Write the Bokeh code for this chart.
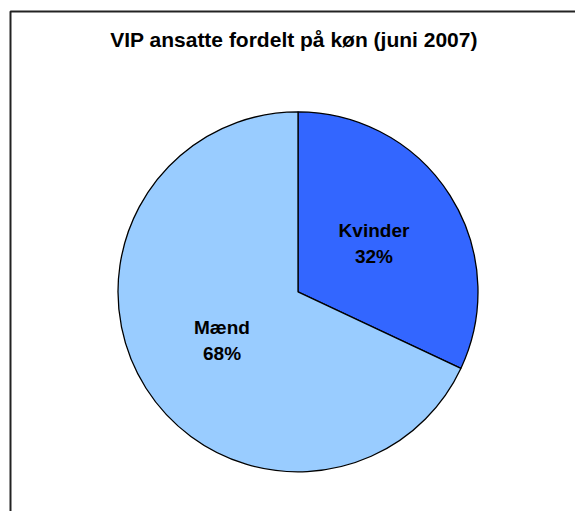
import math
from bokeh.plotting import figure
from bokeh.models import Range1d, ColumnDataSource
from bokeh.core.properties import value
from bokeh.embed import file_html
from bokeh.resources import INLINE

# ---- data ----
title_text = "VIP ansatte fordelt på køn (juni 2007)"
categories = ["Kvinder", "Mænd"]
shares = [32, 68]
slice_colors = ["#3366FF", "#99CCFF"]

# ---- layout ----
W, H = 575, 511
cx, cy, R = 297.5, 219.7, 180.0

total = float(sum(shares))
starts, ends, lx, ly, pct = [], [], [], [], []
cum = 0.0
for s in shares:
    a0 = math.pi / 2 - 2 * math.pi * cum / total
    a1 = math.pi / 2 - 2 * math.pi * (cum + s) / total
    starts.append(a0)
    ends.append(a1)
    mid = (a0 + a1) / 2
    lx.append(cx + 0.5 * R * math.cos(mid))
    ly.append(cy + 0.5 * R * math.sin(mid))
    pct.append(f"{round(100 * s / total)}%")
    cum += s

src = ColumnDataSource(dict(cat=categories, start=starts, end=ends,
                            color=slice_colors, lx=lx, ly=ly, pct=pct))

p = figure(width=W, height=H, output_backend="svg", toolbar_location=None,
           x_range=Range1d(0, W), y_range=Range1d(0, H),
           x_axis_location=None, y_axis_location=None,
           min_border=0, tools="")
p.grid.visible = False
p.outline_line_color = None
p.background_fill_color = "white"
p.border_fill_color = "white"

# chart-area border (left and top edges visible)
p.line(x=[10, 10, W + 20], y=[-20, 500, 500], line_color="#222222", line_width=2)

p.wedge(x=cx, y=cy, radius=R, start_angle="start", end_angle="end",
        direction="clock", fill_color="color", line_color="black",
        line_width=1.3, source=src)

font = value("Liberation Sans")
p.text(x="lx", y="ly", text="cat", source=src, text_font=font,
       text_font_style="bold", text_font_size="19px", text_align="center",
       text_baseline="middle", y_offset=-13, text_color="black")
p.text(x="lx", y="ly", text="pct", source=src, text_font=font,
       text_font_style="bold", text_font_size="19px", text_align="center",
       text_baseline="middle", y_offset=13, text_color="black")

p.text(x=[293.5], y=[472], text=[title_text], text_font=font,
       text_font_style="bold", text_font_size="21px", text_align="center",
       text_baseline="middle", text_color="black")

open("out.html", "w").write(file_html(p, INLINE))
